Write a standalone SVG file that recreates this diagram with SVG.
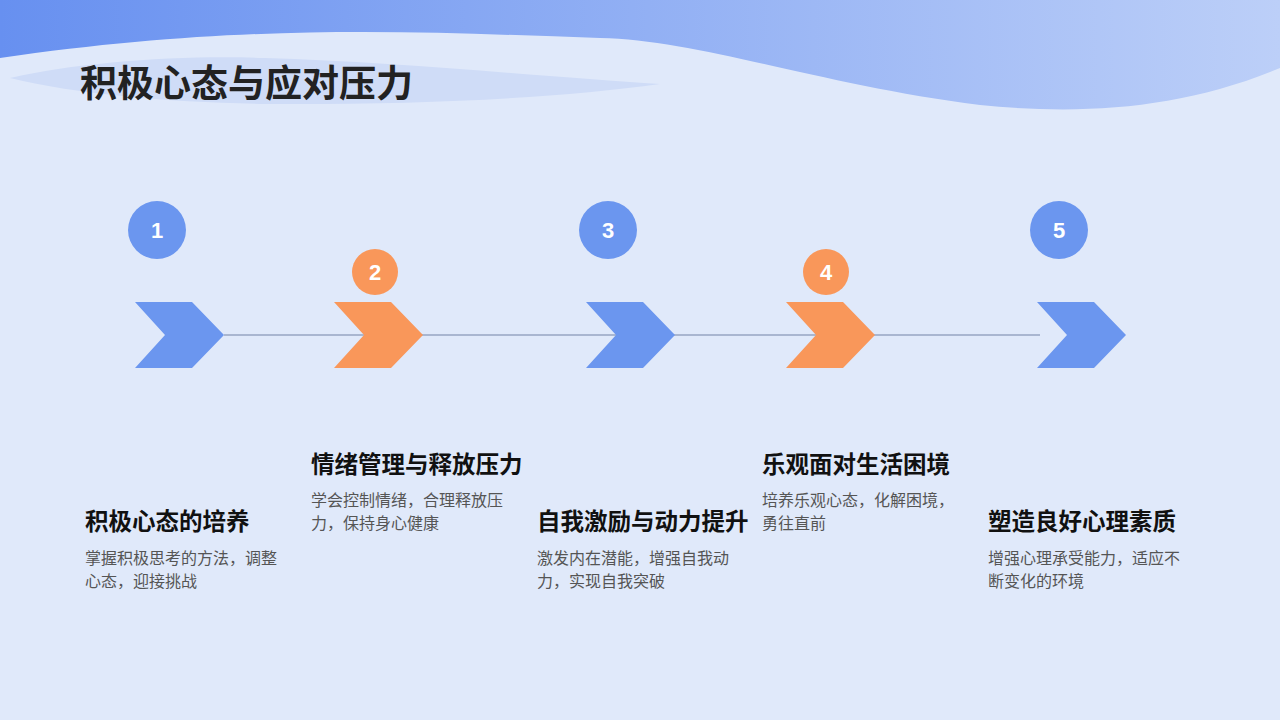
<svg xmlns="http://www.w3.org/2000/svg" width="1280" height="720" viewBox="0 0 1280 720">
<defs>
<linearGradient id="g" x1="0" y1="0" x2="1" y2="0"><stop offset="0" stop-color="#6790f0"/><stop offset="1" stop-color="#bccff8"/></linearGradient>
<style>
.b{fill:#6b96ef}.o{fill:#f9975a}
.n{font-family:"Liberation Sans",Arial,sans-serif;font-weight:bold;font-size:22px;fill:#fff;text-anchor:middle}
.t{font-family:"Noto Sans CJK SC",sans-serif;font-weight:bold;font-size:23.5px;fill:#111}
.d{font-family:"Noto Sans CJK SC",sans-serif;font-size:16px;fill:#555}
</style>
</defs>
<rect width="1280" height="720" fill="#e0e9fa"/>
<path d="M0,0H1280V68C1180,110 1080,115 980,105C820,85 700,40 600,38C420,32 250,22 0,58Z" fill="url(#g)"/>
<path d="M10,78C80,62 180,55 265,58C400,62 560,78 660,84C560,98 420,105 265,104C170,102 80,95 10,78Z" fill="#cfdcf7"/>
<text x="80" y="97" font-family="Noto Sans CJK SC,sans-serif" font-weight="bold" font-size="37" fill="#222">积极心态与应对压力</text>
<g id="connectors"><line x1="224" y1="335" x2="1040" y2="335" stroke="#a9b6d0" stroke-width="2"/></g>
<g id="n1"><circle cx="157" cy="230" r="29" class="b"/><text x="157" y="238" class="n">1</text><path d="M135,302H192L224,335L192,368H135L165,335Z" class="b"/><text x="85" y="530" class="t">积极心态的培养</text><text x="85" y="564" class="d">掌握积极思考的方法，调整</text><text x="85" y="587" class="d">心态，迎接挑战</text></g>
<g id="n2"><circle cx="375" cy="272" r="23" class="o"/><text x="375" y="280" class="n">2</text><path d="M334,302H391L423,335L391,368H334L364,335Z" class="o"/><text x="311" y="473" class="t">情绪管理与释放压力</text><text x="311" y="506" class="d">学会控制情绪，合理释放压</text><text x="311" y="529" class="d">力，保持身心健康</text></g>
<g id="n3"><circle cx="608" cy="230" r="29" class="b"/><text x="608" y="238" class="n">3</text><path d="M586,302H643L675,335L643,368H586L616,335Z" class="b"/><text x="537" y="530" class="t">自我激励与动力提升</text><text x="537" y="564" class="d">激发内在潜能，增强自我动</text><text x="537" y="587" class="d">力，实现自我突破</text></g>
<g id="n4"><circle cx="826" cy="272" r="23" class="o"/><text x="826" y="280" class="n">4</text><path d="M786,302H843L875,335L843,368H786L816,335Z" class="o"/><text x="762" y="473" class="t">乐观面对生活困境</text><text x="762" y="506" class="d">培养乐观心态，化解困境，</text><text x="762" y="529" class="d">勇往直前</text></g>
<g id="n5"><circle cx="1059" cy="230" r="29" class="b"/><text x="1059" y="238" class="n">5</text><path d="M1037,302H1094L1126,335L1094,368H1037L1067,335Z" class="b"/><text x="988" y="530" class="t">塑造良好心理素质</text><text x="988" y="564" class="d">增强心理承受能力，适应不</text><text x="988" y="587" class="d">断变化的环境</text></g>
</svg>
